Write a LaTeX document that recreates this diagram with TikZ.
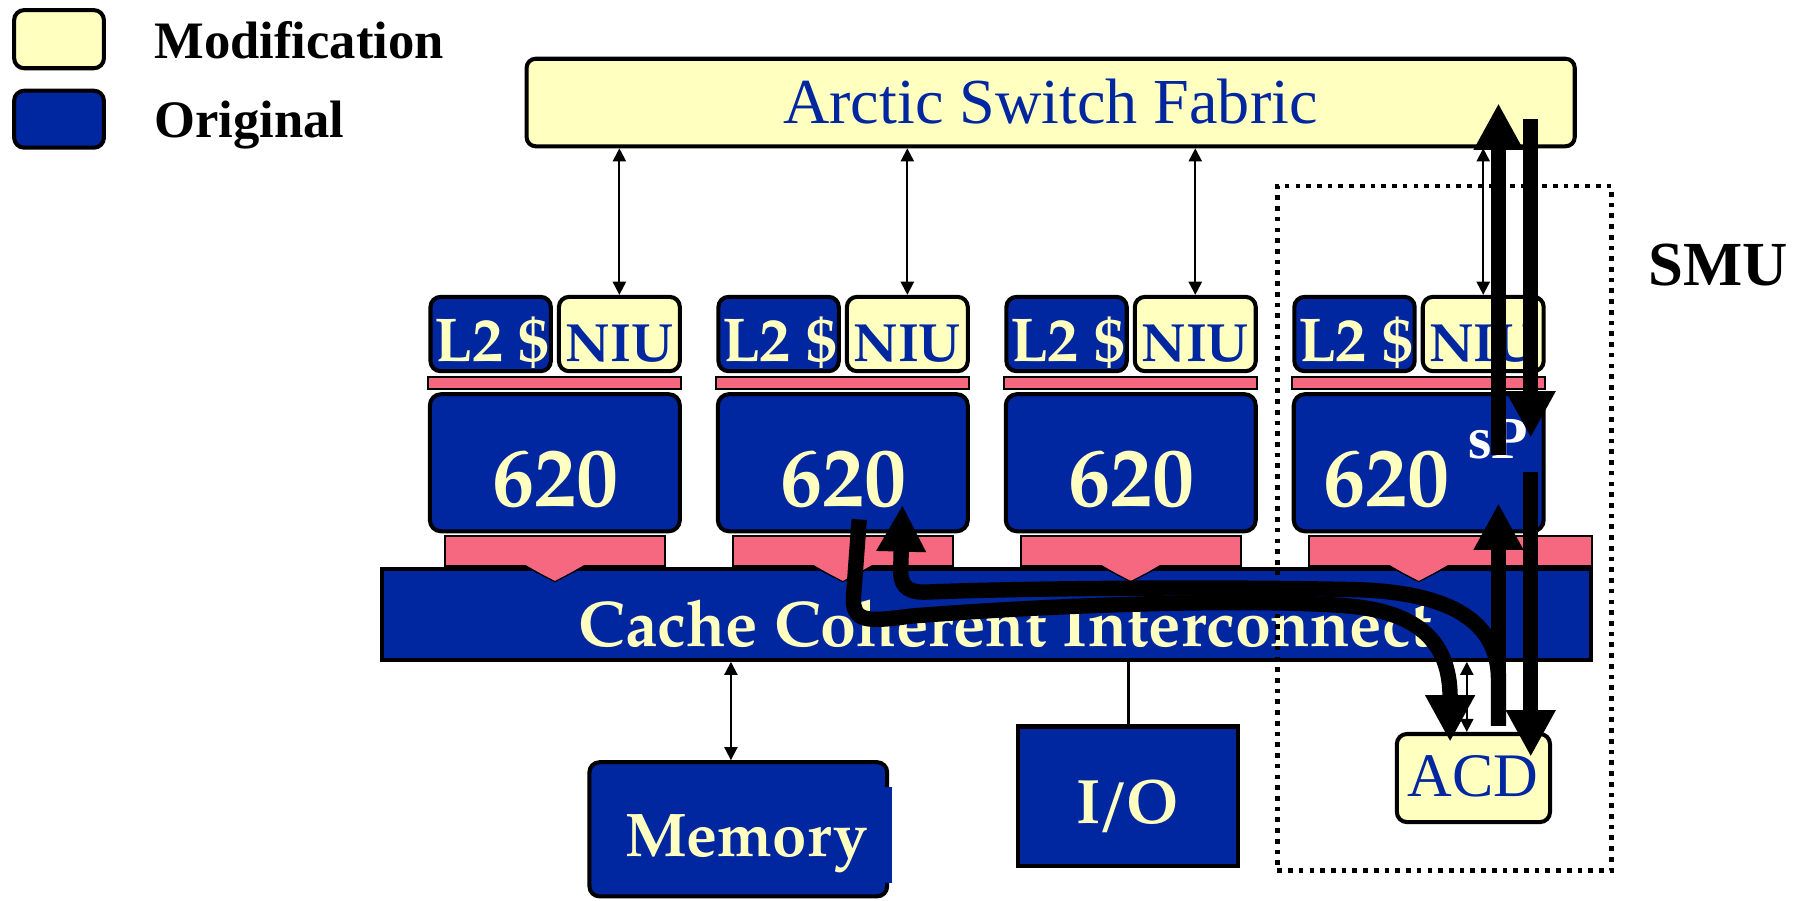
\documentclass[tikz,border=0pt]{standalone}
\usepackage{fontspec}
\setmainfont{Liberation Serif}
\newfontfamily\palfont{texgyrepagella}[Extension=.otf,UprightFont=*-regular,BoldFont=*-bold]
\usetikzlibrary{arrows.meta,calc}

\definecolor{origblue}{RGB}{0,38,160}
\definecolor{modyellow}{RGB}{255,255,192}
\definecolor{buspink}{RGB}{245,104,128}
\newcommand\fsz[1]{\fontsize{#1}{#1}\selectfont}

\begin{document}
\begin{tikzpicture}[x=0.02cm,y=-0.02cm,
  sz/.style 2 args={minimum width={#1*0.02cm},minimum height={#2*0.02cm}},
  unit/.style={draw=black,line width=2pt,rounded corners=5pt,inner sep=0pt},
  orig/.style={unit,fill=origblue},
  modif/.style={unit,fill=modyellow},
  busbar/.style={draw=black,line width=0.8pt,fill=buspink,inner sep=0pt},
  lbl/.style={inner sep=0pt,outer sep=0pt,anchor=base},
  legtxt/.style={lbl,anchor=base west,font=\bfseries\fsz{26pt}},
  yellowbold/.style={lbl,font=\palfont\bfseries\fsz{#1},text=modyellow},
  thinarrow/.style={line width=1pt,{Triangle[length=6.5pt,width=6.5pt]}-{Triangle[length=6.5pt,width=6.5pt]}},
  fatarrow/.style={line width=7.6pt,-{Triangle[length=23pt,width=23pt]}},
  smubox/.style={draw=black,line width=2.3pt,dash pattern=on 2.3pt off 3pt,inner sep=0pt}
]
\useasboundingbox (0,0) rectangle (1568,782);
\fill[white] (0,0) rectangle (1568,782);

% legend
\node[modif,sz={78}{50.5}] (legMod) at (51.25,34) {};
\node[orig,sz={78}{49.5}] (legOrig) at (51.25,103.5) {};
\node[legtxt] (legModTxt) at (134,50.6) {Modification};
\node[legtxt] (legOrigTxt) at (134,119) {Original};

% switch fabric
\node[modif,sz={910}{76},rounded corners=4.5pt] (fabric) at (912.2,89) {};
\node[lbl,font=\fsz{31.7pt},text=origblue] (fabricTxt) at (912,107) {Arctic Switch Fabric};

% processor columns
\foreach \i/\n/\lx/\lw/\tx in {0/A/481.75/191/482,1/B/731.75/191/732,2/C/981.75/191/982,3/D/1259.5/245.6/1204}{
  \node[orig,sz={104.5}{64.5}] (l2\n) at ({426+250*\i},290) {};
  \node[modif,sz={105}{64.5}] (niu\n) at ({537.75+250*\i},290) {};
  \node[busbar,sz={219.6}{10.6}] (cbar\n) at ({481.5+250*\i},332.5) {};
  \node[orig,sz={217}{119},rounded corners=5.5pt] (cpu\n) at ({481.75+250*\i},401.75) {};
  \node[busbar,sz={\lw}{26}] (pbar\n) at (\lx,478.25) {};
  \node[yellowbold=30.6pt] (l2txt\n) at ({427+250*\i},314) {L2 \$};
  \node[lbl,font=\palfont\bfseries\fsz{26.6pt},text=origblue] (niutxt\n) at ({537.5+250*\i},314) {NIU};
  \node[yellowbold=41.5pt] (cputxt\n) at (\tx,440) {620};
}

% interconnect
\node[orig,sharp corners,sz={1049.5}{79}] (cci) at (856.5,533.35) {};
\foreach \cx in {481.75,731.75,981.75,1231.75}{
  \fill[buspink] (\cx-25.3,490.5) -- (\cx+25.3,490.5) -- (\cx,505) -- cycle;
  \draw[line width=0.6pt] (\cx-25.3,492) -- (\cx,505) -- (\cx+25.3,492);
}
\node[yellowbold=31.9pt] (cciTxt) at (873,561.5) {Cache Coherent Interconnect};

% memory, I/O, ACD
\node[orig,sz={258.5}{116.5}] (memory) at (641,720) {};
\fill[origblue] (767.5,683) rectangle (774.5,767);
\node[yellowbold=30.5pt] (memTxt) at (648,744) {Memory};
\node[orig,sharp corners,sz={191.5}{121.5}] (io) at (979.5,691.5) {};
\node[yellowbold=31pt] (ioTxt) at (979,715) {I\kern-1.5pt/\kern-1.5pt O};
\node[modif,sz={133}{76.5}] (acd) at (1279.25,675.5) {};
\node[lbl,font=\fsz{30.6pt},text=origblue] (acdTxt) at (1279,691.7) {ACD};

% thin links
\foreach \n in {A,B,C,D}
  \draw[thinarrow] (niu\n.north |- fabric.south) -- (niu\n.north);
\coordinate (memTop) at ($(memory.north)+(-6.4,0)$);
\draw[thinarrow] (memTop |- cci.south) -- (memTop);
\coordinate (acdTop) at ($(acd.north)+(-5.75,0)$);
\draw[thinarrow] (acdTop |- cci.south) -- (acdTop);
\draw[line width=1.5pt] (io.north) -- (io.north |- cci.south);

% SMU boundary
\node[smubox,sz={290}{594.5}] (smu) at (1254,458.75) {};
\node[lbl,anchor=base west,font=\bfseries\fsz{31pt}] (smuTxt) at (1431,247.5) {SMU};
\node[lbl,anchor=base west,font=\bfseries\fsz{29.5pt},text=white] (spTxt) at (1275,398) {sP};

% message paths
\coordinate (spOut) at (1301,395);
\coordinate (fabIn) at (1301,89.7);
\coordinate (fabOut) at (1329,103.5);
\coordinate (spIn) at (1329,380);
\coordinate (acdOut) at (1301,630);
\coordinate (spUp) at (1301,437);
\coordinate (spDown) at (1329,409.5);
\coordinate (acdIn) at (1329,657);
\coordinate (cpuBOut) at (746,451);
\coordinate (acdIn2) at (1259,644);
\coordinate (cpuBIn) at (783.5,438.5);

\draw[fatarrow] (spOut) -- (fabIn);
\draw[fatarrow] (fabOut) -- (spIn);
\draw[fatarrow] (acdOut) -- (spUp);
\draw[fatarrow] (spDown) -- (acdIn);
\draw[fatarrow] (acdOut) -- (1301,590) .. controls (1301,540) and (1260,515) .. (1180,512)
  .. controls (1050,509) and (880,511) .. (805,514)
  .. controls (784,515) and (782,505) .. (782,495) -- (cpuBIn);
\draw[fatarrow] (cpuBOut) -- (741,518) .. controls (740,540) and (752,540) .. (790,535)
  .. controls (900,526) and (1080,519) .. (1170,526)
  .. controls (1240,532) and (1259,565) .. (acdIn2);
\end{tikzpicture}
\end{document}
